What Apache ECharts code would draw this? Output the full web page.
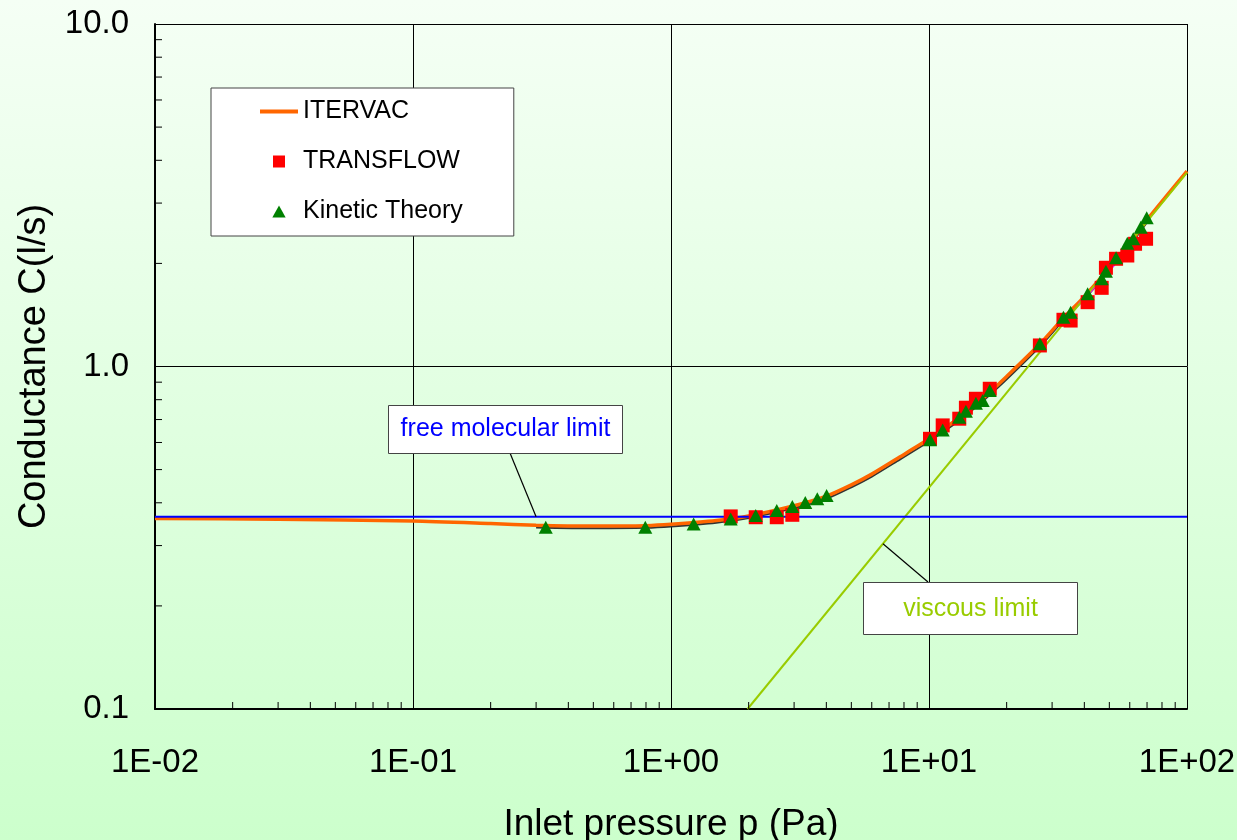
<!DOCTYPE html>
<html>
<head>
<meta charset="utf-8">
<script src="https://cdn.jsdelivr.net/npm/echarts@6/dist/echarts.min.js"></script>
<style>
html,body{margin:0;padding:0;}
#c{width:1237px;height:840px;background:linear-gradient(to bottom,#f5fff5 0%,#ccffcc 100%);}
</style>
</head>
<body>
<div id="c"></div>
<script>
// ---- data ----
const xTickLabels = ['1E-02','1E-01','1E+00','1E+01','1E+02'];
const yTickLabels = ['0.1','1.0','10.0'];

const itervacP = [0.01, 0.03, 0.1, 0.2, 0.3, 0.5, 0.8, 1.0, 1.5, 2.0, 3.0, 4.0, 5.0, 6.0, 7.7, 10, 13, 15, 17, 20, 27, 33, 40, 50, 60, 70, 100];
const itervacC = [0.360, 0.358, 0.354, 0.348, 0.344, 0.342, 0.343, 0.346, 0.355, 0.366, 0.392, 0.418, 0.451, 0.485, 0.544, 0.615, 0.705, 0.768, 0.834, 0.935, 1.167, 1.38, 1.60, 1.94, 2.29, 2.68, 3.72];

const darkP = [0.3, 0.5, 0.8, 1.0, 1.5, 2.0, 3.0, 4.0, 5.0, 6.0, 7.7, 10, 13, 15, 17, 20, 27, 33, 40, 50, 60, 70];
const darkC = [0.339, 0.337, 0.338, 0.341, 0.350, 0.361, 0.386, 0.411, 0.444, 0.477, 0.535, 0.604, 0.692, 0.755, 0.820, 0.918, 1.148, 1.357, 1.575, 1.91, 2.255, 2.64];

const magentaP = [38, 45, 55];
const magentaC = [1.52, 1.74, 2.07];

const transflowP = [1.704, 2.13, 2.57, 2.953, 10.09, 11.3, 13.1, 13.9, 15.2, 17.2, 26.9, 33.2, 35.4, 41.2, 46.7, 48.5, 53.1, 58.7, 62.9, 69.4];
const transflowC = [0.365, 0.363, 0.363, 0.369, 0.615, 0.673, 0.704, 0.758, 0.805, 0.861, 1.152, 1.369, 1.362, 1.541, 1.697, 1.942, 2.063, 2.109, 2.282, 2.36];

const kineticP = [0.327, 0.795, 1.224, 1.704, 2.13, 2.57, 2.953, 3.315, 3.69, 4.01, 10.09, 11.3, 13.1, 13.9, 15.2, 16.15, 17.2, 26.9, 33.2, 35.4, 41.2, 46.7, 48.5, 53.1, 58.7, 61.9, 66.2, 69.8];
const kineticC = [0.3395, 0.3395, 0.347, 0.359, 0.367, 0.380, 0.390, 0.401, 0.411, 0.420, 0.611, 0.653, 0.711, 0.740, 0.781, 0.796, 0.851, 1.165, 1.393, 1.44, 1.631, 1.803, 1.897, 2.077, 2.291, 2.36, 2.551, 2.718];

const freeMolecularLimit = 0.364;
const fmLimitP = [0.01, 100];
const viscousP = [1.98, 100];
const viscousC = [0.1, 3.68];

// ---- helpers ----
const zip = (a, b) => a.map((v, i) => [v, b[i]]);
const FONT = '"Liberation Sans", Arial, Helvetica, sans-serif';
const minorX = [], minorY = [];
for (let k = -2; k <= 1; k++) for (let m = 2; m <= 9; m++) minorX.push([m * Math.pow(10, k), 0.1]);
for (let k = -1; k <= 0; k++) for (let m = 2; m <= 9; m++) minorY.push([0.01, m * Math.pow(10, k)]);

const chart = echarts.init(document.getElementById('c'), null, {renderer: 'canvas'});

const option = {
  backgroundColor: 'transparent',
  animation: false,
  grid: {left: 155, right: 50, top: 24, bottom: 131, containLabel: false, outerBoundsMode: 'none'},
  legend: {
    orient: 'vertical',
    left: 211, top: 88,
    padding: [11, 51, 12, 49],
    itemGap: 25,
    itemWidth: 38, itemHeight: 12,
    symbolKeepAspect: true,
    backgroundColor: '#ffffff',
    borderColor: '#444444', borderWidth: 1,
    textStyle: {fontFamily: FONT, fontSize: 25, color: '#000'},
    data: [
      {name: 'ITERVAC', icon: 'path://M0,0h38v4h-38z', itemStyle: {color: '#ff6600'}},
      {name: 'TRANSFLOW', icon: 'path://M0,0h10v10h-10z', itemStyle: {color: '#ff0000'}},
      {name: 'Kinetic Theory', icon: 'path://M5,0L10,9L0,9z', itemStyle: {color: '#008000'}}
    ]
  },
  xAxis: {
    type: 'log', logBase: 10, min: 0.01, max: 100,
    name: 'Inlet pressure p (Pa)', nameLocation: 'middle', nameGap: 97,
    nameTextStyle: {fontFamily: FONT, fontSize: 37, color: '#000'},
    axisLine: {show: true, onZero: false, lineStyle: {color: '#000', width: 2}},
    axisTick: {show: false},
    axisLabel: {fontFamily: FONT, fontSize: 33, color: '#000', margin: 37,
      formatter: (v, i) => xTickLabels[i]},
    splitLine: {show: true, lineStyle: {color: '#000', width: 1}}
  },
  yAxis: {
    type: 'log', logBase: 10, min: 0.1, max: 10,
    name: 'Conductance C(l/s)', nameLocation: 'middle', nameGap: 101,
    nameTextStyle: {fontFamily: FONT, fontSize: 38, color: '#000'},
    axisLine: {show: true, onZero: false, lineStyle: {color: '#000', width: 2}},
    axisTick: {show: false},
    axisLabel: {fontFamily: FONT, fontSize: 33, color: '#000', margin: 26,
      formatter: (v, i) => yTickLabels[i]},
    splitLine: {show: true, lineStyle: {color: '#000', width: 1}}
  },
  series: [
    {
      name: 'minorX', type: 'custom', silent: true, z: 3,
      data: minorX,
      renderItem: (params, api) => {
        const pt = api.coord([api.value(0), api.value(1)]);
        const cs = params.coordSys;
        const yb = cs.y + cs.height;
        return {type: 'line', shape: {x1: pt[0], y1: yb, x2: pt[0], y2: yb - 7}, style: {stroke: '#000', lineWidth: 1}};
      }
    },
    {
      name: 'minorY', type: 'custom', silent: true, z: 3,
      data: minorY,
      renderItem: (params, api) => {
        const pt = api.coord([api.value(0), api.value(1)]);
        const cs = params.coordSys;
        return {type: 'line', shape: {x1: cs.x, y1: pt[1], x2: cs.x + 7, y2: pt[1]}, style: {stroke: '#000', lineWidth: 1}};
      }
    },
    {
      name: 'dark', type: 'line', data: zip(darkP, darkC), showSymbol: false, symbol: 'none',
      smooth: 0.25, lineStyle: {color: '#333333', width: 2}, silent: true, z: 2
    },
    {
      name: 'ITERVAC', type: 'line', data: zip(itervacP, itervacC), showSymbol: false, symbol: 'none',
      smooth: 0.25, lineStyle: {color: '#ff6600', width: 3.5}, itemStyle: {color: '#ff6600'}, z: 2
    },
    {
      name: 'magenta', type: 'line', data: zip(magentaP, magentaC), showSymbol: false, symbol: 'none',
      lineStyle: {color: '#ff00ff', width: 2}, silent: true, z: 2
    },
    {
      name: 'viscous', type: 'line', data: zip(viscousP, viscousC), showSymbol: false, symbol: 'none',
      lineStyle: {color: '#99cc00', width: 2}, silent: true, z: 2
    },
    {
      name: 'freeMolecular', type: 'line', data: fmLimitP.map(p => [p, freeMolecularLimit]), showSymbol: false, symbol: 'none',
      lineStyle: {color: '#0000ff', width: 2}, silent: true, z: 2
    },
    {
      name: 'TRANSFLOW', type: 'scatter', data: zip(transflowP, transflowC),
      symbol: 'rect', symbolSize: 14, itemStyle: {color: '#ff0000', opacity: 1}, z: 4
    },
    {
      name: 'Kinetic Theory', type: 'scatter', data: zip(kineticP, kineticC),
      symbol: 'triangle', symbolSize: [14, 13], itemStyle: {color: '#008000', opacity: 1}, z: 5
    }
  ]
};
chart.setOption(option);

// ---- annotations (callout boxes with leader lines to the limit lines) ----
const fmAnchor = chart.convertToPixel({gridIndex: 0}, [0.3, freeMolecularLimit]);
const vP = 6.63;
const vFrac = (Math.log10(vP) - Math.log10(viscousP[0])) / (Math.log10(viscousP[1]) - Math.log10(viscousP[0]));
const vC = Math.pow(10, Math.log10(viscousC[0]) + vFrac * (Math.log10(viscousC[1]) - Math.log10(viscousC[0])));
const vAnchor = chart.convertToPixel({gridIndex: 0}, [vP, vC]);

chart.setOption({
  graphic: [
    {type: 'line', z: 10, shape: {x1: 510, y1: 453, x2: fmAnchor[0], y2: fmAnchor[1]}, style: {stroke: '#000', lineWidth: 1.2}},
    {type: 'rect', z: 11, shape: {x: 388.5, y: 405.5, width: 234, height: 48}, style: {fill: '#fff', stroke: '#444', lineWidth: 1}},
    {type: 'text', z: 12, x: 505.5, y: 429.5, style: {text: 'free molecular limit', fill: '#0000ff', font: '25px ' + FONT, align: 'center', verticalAlign: 'middle'}},
    {type: 'line', z: 10, shape: {x1: 928, y1: 582, x2: vAnchor[0], y2: vAnchor[1]}, style: {stroke: '#000', lineWidth: 1.2}},
    {type: 'rect', z: 11, shape: {x: 863.5, y: 582.5, width: 214, height: 52}, style: {fill: '#fff', stroke: '#444', lineWidth: 1}},
    {type: 'text', z: 12, x: 970.5, y: 609, style: {text: 'viscous limit', fill: '#99cc00', font: '25px ' + FONT, align: 'center', verticalAlign: 'middle'}}
  ]
});
</script>
</body>
</html>
